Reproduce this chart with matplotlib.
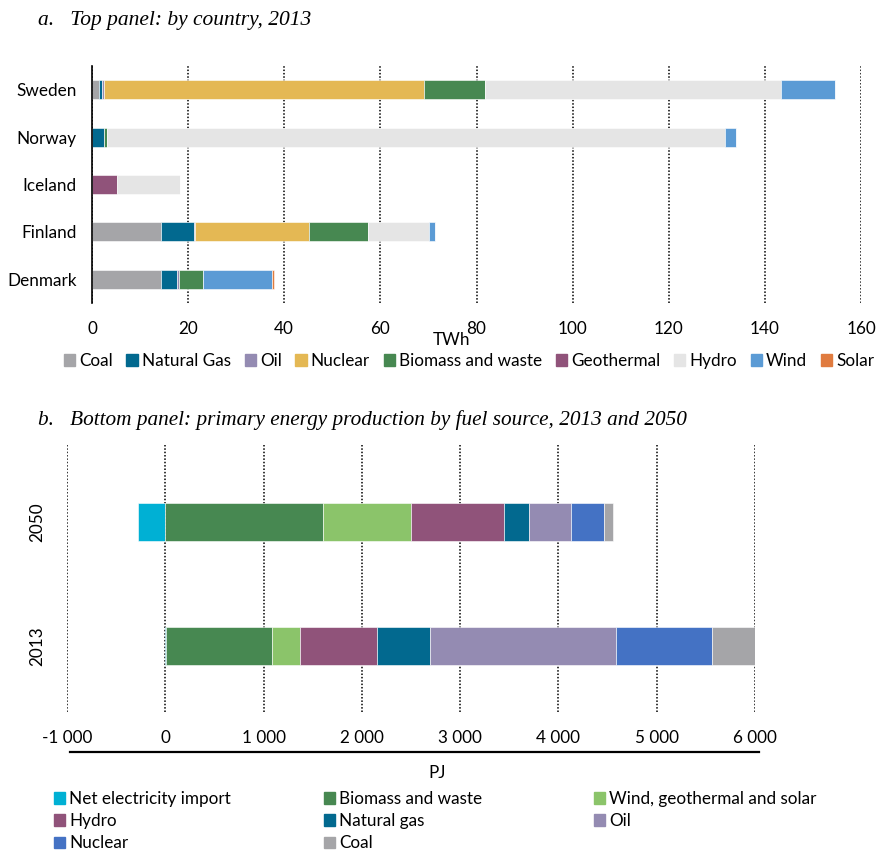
import matplotlib
matplotlib.use("Agg")
import matplotlib.pyplot as plt
from matplotlib.patches import Patch
import numpy as np

plt.rcParams['font.family'] = ['Lato', 'DejaVu Sans']

# ---- top panel data (TWh, 2013) ----
countries = ['Denmark', 'Finland', 'Iceland', 'Norway', 'Sweden']
top_sources = ['Coal', 'Natural Gas', 'Oil', 'Nuclear', 'Biomass and waste',
               'Geothermal', 'Hydro', 'Wind', 'Solar']
coal = [14.3, 14.4, 0, 0, 1.4]
natural_gas = [3.3, 6.8, 0, 2.5, 0.7]
oil = [0.5, 0.2, 0, 0, 0.5]
nuclear = [0, 23.7, 0, 0, 66.5]
biomass = [5.0, 12.3, 0, 0.6, 12.7]
geothermal = [0, 0, 5.2, 0, 0]
hydro = [0, 12.8, 13.1, 128.7, 61.5]
wind = [14.3, 1.2, 0, 2.2, 11.2]
solar = [0.5, 0, 0, 0, 0.1]
top_colors = ['#A5A5A8', '#02698F', '#948BB2', '#E4B854', '#478851',
              '#90537A', '#E5E5E5', '#5B9BD5', '#E07B3F']

# ---- bottom panel data (PJ) ----
years = ['2013', '2050']
bot_sources = ['Net electricity import', 'Biomass and waste', 'Wind, geothermal and solar',
               'Hydro', 'Natural gas', 'Oil', 'Nuclear', 'Coal']
net_import = [5, -275]
biomass_pj = [1082, 1606]
wind_geo_solar = [288, 893]
hydro_pj = [778, 947]
gas_pj = [536, 258]
oil_pj = [1901, 425]
nuclear_pj = [974, 339]
coal_pj = [475, 91]
bot_colors = ['#00B0D4', '#478851', '#8BC46A', '#90537A', '#02698F',
              '#948BB2', '#4472C4', '#A5A5A8']

W, H = 877, 852
FS = 12.3
fig = plt.figure(figsize=(W / 100, H / 100), dpi=100)


def px(x, y):
    return x / W, 1 - y / H


# ---------------- top panel ----------------
ax1 = fig.add_axes([92 / W, 1 - 303 / H, (861 - 92) / W, (303 - 66) / H])
ypos = np.arange(len(countries))
left = np.zeros(len(countries))
top_series = [coal, natural_gas, oil, nuclear, biomass, geothermal, hydro, wind, solar]
for vals, col, lab in zip(top_series, top_colors, top_sources):
    ax1.barh(ypos, vals, left=left, height=0.4, color=col, edgecolor='white',
             linewidth=0.4, label=lab, zorder=3)
    left += np.array(vals)
ax1.set_xlim(0, 160)
ax1.set_ylim(-0.5, 4.5)
ax1.set_xticks(range(0, 161, 20))
ax1.set_yticks(ypos, countries)
ax1.tick_params(length=0, labelsize=FS)
ax1.tick_params(axis='y', pad=11)
ax1.tick_params(axis='x', pad=13)
ax1.xaxis.grid(True, linestyle=(0, (1, 1.2)), color='black', linewidth=1.1, zorder=1)
for s in ['top', 'right', 'bottom']:
    ax1.spines[s].set_visible(False)
ax1.spines['left'].set_linewidth(1.2)
ax1.spines['left'].set_zorder(5)
fig.text(*px(452, 340), 'TWh', ha='center', va='center', fontsize=FS)

handles = [Patch(color=c) for c in top_colors]
fig.legend(handles, top_sources, loc='center', bbox_to_anchor=px(469, 361), ncol=9,
           frameon=False, handlelength=0.65, handleheight=0.65, handletextpad=0.25,
           columnspacing=0.8, fontsize=FS, borderpad=0)

fig.text(*px(38, 20), 'a.   Top panel: by country, 2013', ha='left', va='center',
         fontsize=15.5, style='italic', family='Liberation Serif')

# ---------------- bottom panel ----------------
ax2 = fig.add_axes([67 / W, 1 - 712 / H, (755 - 67) / W, (712 - 445) / H])
yb = np.arange(len(years))
pos_left = np.zeros(len(years))
neg_left = np.zeros(len(years))
bot_series = [net_import, biomass_pj, wind_geo_solar, hydro_pj, gas_pj, oil_pj, nuclear_pj, coal_pj]
for vals, col in zip(bot_series, bot_colors):
    vals = np.array(vals, dtype=float)
    start = np.where(vals >= 0, pos_left, neg_left)
    ax2.barh(yb, vals, left=start, height=0.31, color=col, edgecolor='white',
             linewidth=0.4, zorder=3)
    pos_left += np.where(vals >= 0, vals, 0)
    neg_left += np.where(vals < 0, vals, 0)
ax2.set_xlim(-1000, 6000)
ax2.set_ylim(-0.53, 1.62)
ticks = list(range(-1000, 6001, 1000))
ax2.set_xticks(ticks, ['{:,}'.format(t).replace(',', ' ') for t in ticks])
ax2.set_yticks(yb, years, rotation=90, va='center')
ax2.tick_params(length=0, labelsize=FS)
ax2.tick_params(axis='x', pad=13)
ax2.tick_params(axis='y', pad=16)
ax2.xaxis.grid(True, linestyle=(0, (1, 1.2)), color='black', linewidth=1.1, zorder=1)
for s in ax2.spines.values():
    s.set_visible(False)

# axis line drawn under the tick labels
fig.add_artist(plt.Line2D([70 / W, 759 / W], [1 - 752 / H, 1 - 752 / H], color='black', linewidth=1.6))
fig.text(*px(437, 773), 'PJ', ha='center', va='center', fontsize=FS)

fig.text(*px(38, 420), 'b.   Bottom panel: primary energy production by fuel source, 2013 and 2050',
         ha='left', va='center', fontsize=15.3, style='italic', family='Liberation Serif')

# three legend columns, filled row by row
cols_x = [54, 324, 594]
for ci, x in enumerate(cols_x):
    idx = list(range(ci, len(bot_sources), 3))
    fig.legend([Patch(color=bot_colors[i]) for i in idx], [bot_sources[i] for i in idx],
               loc='upper left', bbox_to_anchor=px(x, 791), frameon=False,
               handlelength=0.65, handleheight=0.65, handletextpad=0.25,
               labelspacing=0.36, fontsize=FS, borderpad=0, borderaxespad=0)

fig.savefig('out.png', dpi=100)
